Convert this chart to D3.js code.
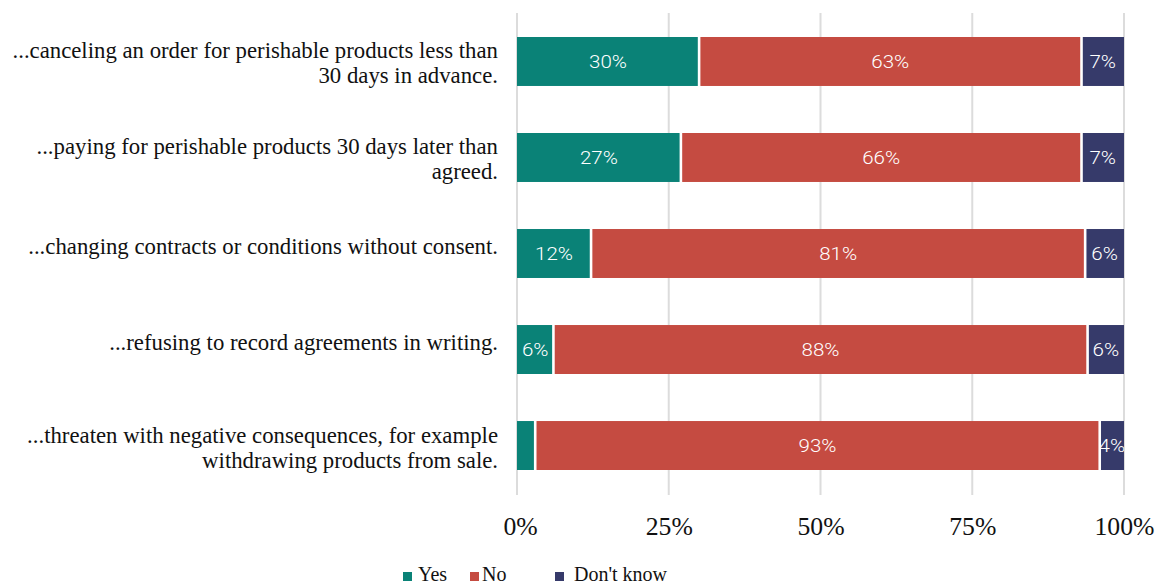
<!DOCTYPE html>
<html><head><meta charset="utf-8">
<script src="https://cdn.jsdelivr.net/npm/d3@7"></script>
<style>
html,body{margin:0;padding:0;background:#fff;}
svg{display:block;}
</style></head>
<body>
<svg id="chart" width="1167" height="587"></svg>
<script>
const categories = [
  ["...canceling an order for perishable products less than", "30 days in advance."],
  ["...paying for perishable products 30 days later than", "agreed."],
  ["...changing contracts or conditions without consent."],
  ["...refusing to record agreements in writing."],
  ["...threaten with negative consequences, for example", "withdrawing products from sale."]
];
const seriesNames = ["Yes", "No", "Don't know"];
const yesValues = [30, 27, 12.2, 6, 3];
const noValues = [63, 66, 81.4, 88, 93];
const dkValues = [7, 7, 6.4, 6, 4];
const tickValues = [0, 25, 50, 75, 100];
const tickLabels = ["0%", "25%", "50%", "75%", "100%"];
const colors = ["#0a8277", "#c54b41", "#363a6a"];

const SERIF = "'Liberation Serif', serif";
const svg = d3.select("#chart");

// helper: font size so a text string reaches a target width
function fitSize(str, family, target) {
  const t = svg.append("text").attr("font-family", family).attr("font-size", 20).text(str);
  const w = t.node().getComputedTextLength();
  t.remove();
  return 20 * target / w;
}

const x = d3.scaleLinear().domain([0, 100]).range([517, 1124]);
const y = d3.scaleBand().domain(d3.range(categories.length)).range([37, 470]).paddingInner(0.49).paddingOuter(0);

// gridlines
svg.append("g").selectAll("line").data(tickValues).join("line")
  .attr("x1", d => x(d)).attr("x2", d => x(d))
  .attr("y1", 13).attr("y2", 495)
  .attr("stroke", "#dcdcdc").attr("stroke-width", 2);

const rows = categories.map((c, i) => [yesValues[i], noValues[i], dkValues[i]]);
const defs = svg.append("defs");

rows.forEach((vals, i) => {
  let acc = 0;
  const g = svg.append("g");
  vals.forEach((v, k) => {
    const x0 = x(acc), x1 = x(acc + v);
    acc += v;
    const gap = 1.3;
    const rx = x0 + (k > 0 ? gap : 0), rw = x1 - x0 - (k > 0 ? gap : 0) - (k < 2 ? gap : 0);
    g.append("rect").attr("x", rx).attr("y", y(i)).attr("width", rw).attr("height", y.bandwidth())
      .attr("fill", colors[k]);
    const cid = "c" + i + "_" + k;
    defs.append("clipPath").attr("id", cid).append("rect")
      .attr("x", rx).attr("y", y(i)).attr("width", rw).attr("height", y.bandwidth());
    if (v >= 4) {
      const cx = (x0 + x1) / 2, cy = y(i) + y.bandwidth() / 2;
      g.append("g").attr("clip-path", "url(#" + cid + ")")
        .append("text")
        .attr("transform", "translate(" + cx + "," + cy + ") scale(1.08,1)")
        .attr("dy", "0.36em").attr("text-anchor", "middle")
        .attr("fill", "#ffffff").attr("font-family", "Roboto, sans-serif")
        .attr("font-size", 19).attr("font-weight", 300)
        .text(Math.round(v) + "%");
    }
  });
});

// category labels
const catSize = fitSize(categories[0][0], SERIF, 486);
categories.forEach((lines, i) => {
  const cy = y(i) + y.bandwidth() / 2;
  const t = svg.append("text").attr("text-anchor", "end")
    .attr("font-family", SERIF).attr("font-size", catSize).attr("fill", "#111");
  const lh = 25;
  const startY = lines.length === 1 ? cy : cy - 3;
  lines.forEach((ln, j) => {
    t.append("tspan").attr("x", 498).attr("y", startY + j * lh).text(ln);
  });
});

// x axis tick labels
const tickSize = fitSize("100%", SERIF, 60);
const axis = d3.axisBottom(x).tickValues(tickValues).tickFormat((d, i) => tickLabels[i]).tickSize(0).tickPadding(0);
const ag = svg.append("g").attr("transform", "translate(0,535)").call(axis);
ag.select(".domain").remove();
ag.selectAll("text").attr("dy", null).attr("y", 0).attr("font-family", SERIF).attr("font-size", tickSize).attr("fill", "#111");
ag.selectAll(".tick").filter(d => d === 0).select("text").attr("dx", 3);

// legend
const legSize = 20;
const legendX = [403, 470, 555];
const legendTextX = [418, 482, 574];
const lg = svg.append("g");
seriesNames.forEach((n, k) => {
  lg.append("rect").attr("x", legendX[k]).attr("y", 572).attr("width", 9).attr("height", 9).attr("fill", colors[k]);
  lg.append("text").attr("x", legendTextX[k]).attr("y", 581)
    .attr("font-family", SERIF).attr("font-size", legSize).attr("fill", "#111").text(n);
});
</script>
</body></html>
